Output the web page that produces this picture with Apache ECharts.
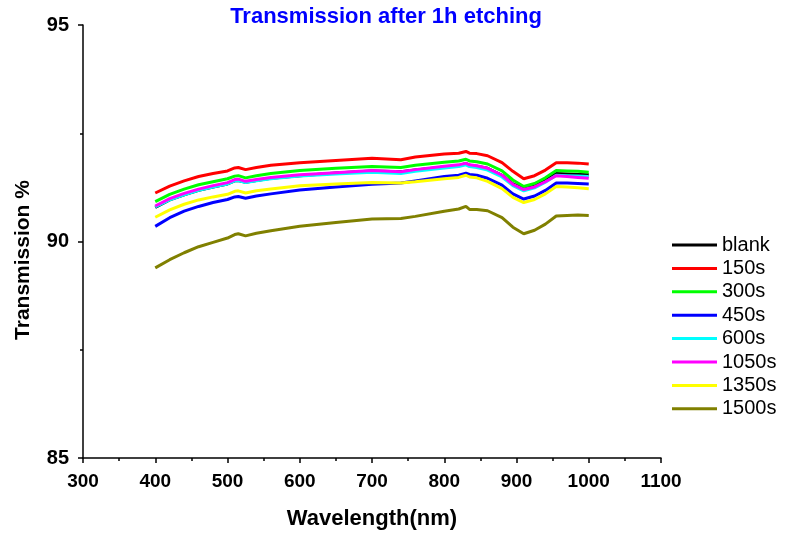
<!DOCTYPE html>
<html>
<head>
<meta charset="utf-8">
<script src="https://cdn.jsdelivr.net/npm/echarts@6/dist/echarts.min.js"></script>
<style>
  html, body { margin: 0; padding: 0; background: #fff; }
  #chart { width: 788px; height: 537px; }
</style>
</head>
<body>
<div id="chart"></div>
<script>
// Wavelength sampling points (nm)
const wavelengths = [400, 420, 440, 460, 480, 500, 510, 515, 525, 540, 560, 600, 650, 700, 740, 760,
  800, 820, 830, 835, 845, 860, 880, 895, 910, 925, 940, 955, 970, 985, 1000];

// Transmission (%) for each etching time
const blank = [90.79, 90.96, 91.08, 91.18, 91.26, 91.33, 91.40, 91.41, 91.37, 91.41, 91.46, 91.52, 91.58, 91.63, 91.61, 91.65,
  91.72, 91.75, 91.80, 91.76, 91.74, 91.69, 91.53, 91.33, 91.22, 91.29, 91.42, 91.57, 91.56, 91.55, 91.54];
const t150 = [91.12, 91.28, 91.40, 91.50, 91.57, 91.63, 91.70, 91.71, 91.66, 91.71, 91.76, 91.82, 91.87, 91.92, 91.89, 91.95,
  92.02, 92.04, 92.08, 92.04, 92.03, 91.98, 91.82, 91.62, 91.45, 91.52, 91.65, 91.82, 91.82, 91.81, 91.79];
const t300 = [90.92, 91.09, 91.21, 91.31, 91.38, 91.45, 91.51, 91.52, 91.47, 91.52, 91.57, 91.64, 91.69, 91.73, 91.71, 91.76,
  91.83, 91.86, 91.90, 91.86, 91.84, 91.79, 91.63, 91.42, 91.27, 91.34, 91.47, 91.64, 91.63, 91.62, 91.60];
const t450 = [90.35, 90.55, 90.70, 90.81, 90.90, 90.97, 91.03, 91.04, 91.00, 91.05, 91.10, 91.19, 91.26, 91.32, 91.35, 91.40,
  91.50, 91.53, 91.58, 91.55, 91.53, 91.46, 91.30, 91.10, 90.98, 91.05, 91.18, 91.35, 91.35, 91.34, 91.33];
const t600 = [90.80, 90.96, 91.08, 91.18, 91.26, 91.33, 91.40, 91.41, 91.36, 91.40, 91.45, 91.51, 91.56, 91.60, 91.57, 91.62,
  91.70, 91.73, 91.77, 91.73, 91.71, 91.65, 91.49, 91.29, 91.17, 91.24, 91.37, 91.53, 91.52, 91.51, 91.50];
const t1050 = [90.82, 90.99, 91.11, 91.21, 91.29, 91.36, 91.43, 91.44, 91.39, 91.43, 91.48, 91.54, 91.59, 91.64, 91.61, 91.66,
  91.74, 91.77, 91.81, 91.77, 91.75, 91.69, 91.53, 91.32, 91.20, 91.26, 91.38, 91.52, 91.50, 91.48, 91.46];
const t1350 = [90.56, 90.73, 90.86, 90.96, 91.03, 91.09, 91.16, 91.17, 91.12, 91.17, 91.21, 91.29, 91.33, 91.36, 91.35, 91.38,
  91.45, 91.48, 91.53, 91.49, 91.47, 91.39, 91.22, 91.02, 90.90, 90.97, 91.10, 91.27, 91.26, 91.24, 91.22];
const t1500 = [89.39, 89.58, 89.74, 89.88, 89.98, 90.08, 90.16, 90.18, 90.13, 90.19, 90.25, 90.35, 90.44, 90.52, 90.53, 90.58,
  90.70, 90.75, 90.81, 90.74, 90.74, 90.71, 90.55, 90.33, 90.18, 90.26, 90.40, 90.59, 90.60, 90.61, 90.60];

const seriesNames = ['blank', '150s', '300s', '450s', '600s', '1050s', '1350s', '1500s'];
const seriesValues = [blank, t150, t300, t450, t600, t1050, t1350, t1500];
const seriesColors = ['#000000', '#ff0000', '#00ff00', '#0000ff', '#00ffff', '#ff00ff', '#ffff00', '#808000'];

const xTicks = { min: 300, max: 1100, interval: 100 };
const yTicks = { min: 85, max: 95, interval: 5 };

const FONT = '"Liberation Sans", Arial, sans-serif';

const chart = echarts.init(document.getElementById('chart'), null, { renderer: 'canvas' });

const axisCommon = {
  axisLine: { show: true, lineStyle: { color: '#000', width: 1.5 } },
  axisTick: { show: true, inside: false, length: 5, lineStyle: { color: '#000', width: 1.5 } },
  minorTick: { show: true, splitNumber: 2, length: 3, lineStyle: { color: '#000', width: 1.5 } },
  splitLine: { show: false },
  minorSplitLine: { show: false }
};

chart.setOption({
  animation: false,
  backgroundColor: '#fff',
  title: {
    text: 'Transmission after 1h etching',
    left: 381,
    textAlign: 'center',
    top: 1,
    textStyle: { color: '#0000ff', fontFamily: FONT, fontWeight: 'bold', fontSize: 22 }
  },
  grid: { left: 83, right: 127, top: 25, bottom: 79 },
  legend: {
    orient: 'vertical',
    left: 667,
    top: 230,
    icon: 'rect',
    itemWidth: 45,
    itemHeight: 3,
    itemGap: 3.4,
    textStyle: { color: '#000', fontFamily: FONT, fontSize: 20, lineHeight: 20 },
    data: seriesNames
  },
  xAxis: Object.assign({
    type: 'value',
    min: xTicks.min, max: xTicks.max, interval: xTicks.interval,
    axisLabel: {
      color: '#000', fontFamily: FONT, fontWeight: 'bold', fontSize: 19, margin: 14,
      formatter: v => String(v)
    }
  }, axisCommon),
  yAxis: Object.assign({
    type: 'value',
    min: yTicks.min, max: yTicks.max, interval: yTicks.interval,
    axisLabel: {
      color: '#000', fontFamily: FONT, fontWeight: 'bold', fontSize: 20, margin: 14,
      formatter: v => String(v)
    }
  }, axisCommon),
  graphic: [
    {
      type: 'text',
      x: 372, y: 519,
      style: { text: 'Wavelength(nm)', fill: '#000', font: 'bold 22px ' + FONT, align: 'center', verticalAlign: 'middle' }
    },
    {
      type: 'text',
      x: 23, y: 260,
      rotation: Math.PI / 2,
      style: { text: 'Transmission %', fill: '#000', font: 'bold 21px ' + FONT, align: 'center', verticalAlign: 'middle' }
    }
  ],
  series: seriesNames.map((name, i) => ({
    name: name,
    type: 'line',
    showSymbol: false,
    symbol: 'none',
    color: seriesColors[i],
    lineStyle: { color: seriesColors[i], width: 3 },
    data: wavelengths.map((w, j) => [w, seriesValues[i][j]])
  }))
});
</script>
</body>
</html>
